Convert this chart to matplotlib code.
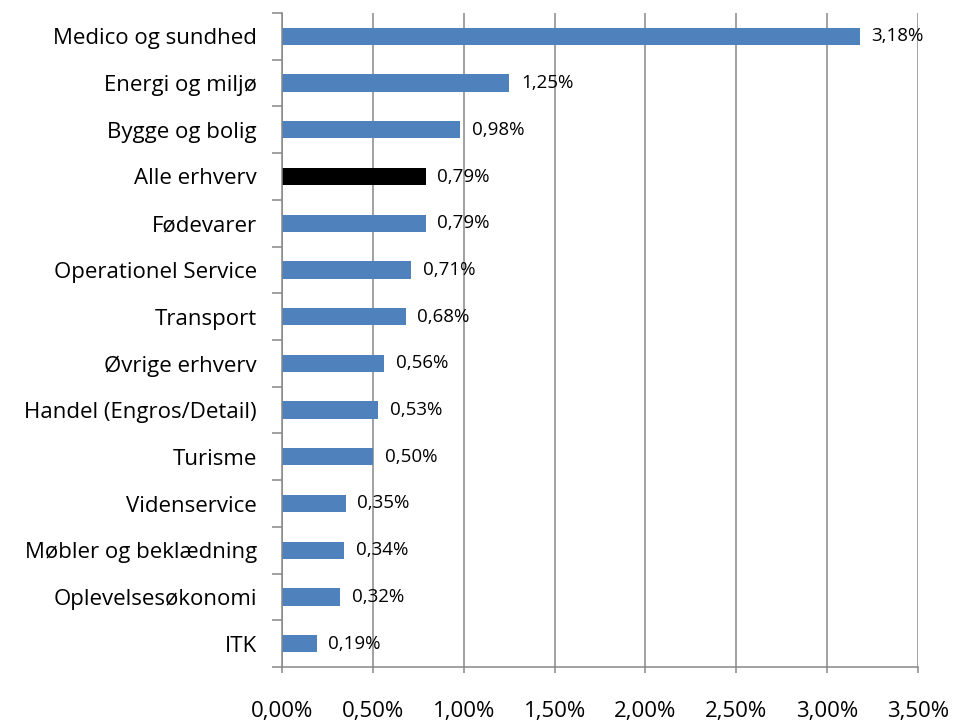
import matplotlib
matplotlib.use("Agg")
import matplotlib.pyplot as plt
from matplotlib.ticker import FuncFormatter, MultipleLocator

categories = ["Medico og sundhed", "Energi og miljø", "Bygge og bolig", "Alle erhverv",
              "Fødevarer", "Operationel Service", "Transport", "Øvrige erhverv",
              "Handel (Engros/Detail)", "Turisme", "Videnservice", "Møbler og beklædning",
              "Oplevelsesøkonomi", "ITK"]
values = [3.18, 1.25, 0.98, 0.79, 0.79, 0.71, 0.68, 0.56, 0.53, 0.50, 0.35, 0.34, 0.32, 0.19]
highlight = "Alle erhverv"

plt.rcParams['font.family'] = ['Open Sans', 'DejaVu Sans']

fig = plt.figure(figsize=(9.54, 7.22), dpi=100)
ax = fig.add_axes([282/954, 1 - 667/722, (918-282)/954, (667-13)/722])

n = len(categories)
ypos = list(range(n))
colors = ["#000000" if c == highlight else "#4F81BD" for c in categories]
ax.barh(ypos, values, height=0.37, color=colors, zorder=3)
ax.set_ylim(n - 0.5, -0.5)
ax.set_xlim(0, 3.5)

ax.xaxis.set_major_locator(MultipleLocator(0.5))
ax.xaxis.set_major_formatter(FuncFormatter(lambda v, p: f"{v:.2f}%".replace(".", ",")))
ax.grid(axis="x", color="#878787", linewidth=1.1, zorder=0)

ax.set_yticks([i - 0.5 for i in range(n + 1)])
ax.set_yticklabels([])
ax.set_yticks(ypos, minor=True)
ax.set_yticklabels(categories, minor=True, fontsize=16)
ax.tick_params(axis="y", which="minor", length=0, pad=18)
ax.tick_params(axis="y", which="major", length=7.5, width=1.1, color="#878787")
ax.tick_params(axis="x", which="major", length=4.5, width=1.1, color="#878787", labelsize=16, pad=20)

for s in ["top", "right"]:
    ax.spines[s].set_visible(False)
for s in ["left", "bottom"]:
    ax.spines[s].set_color("#878787")
    ax.spines[s].set_linewidth(1.1)
    ax.spines[s].set_zorder(4)

for i, v in enumerate(values):
    ax.text(v + 0.065, i, f"{v:.2f}%".replace(".", ","), va="center", ha="left", fontsize=13.5, zorder=5)

fig.savefig("out.png", dpi=100)
